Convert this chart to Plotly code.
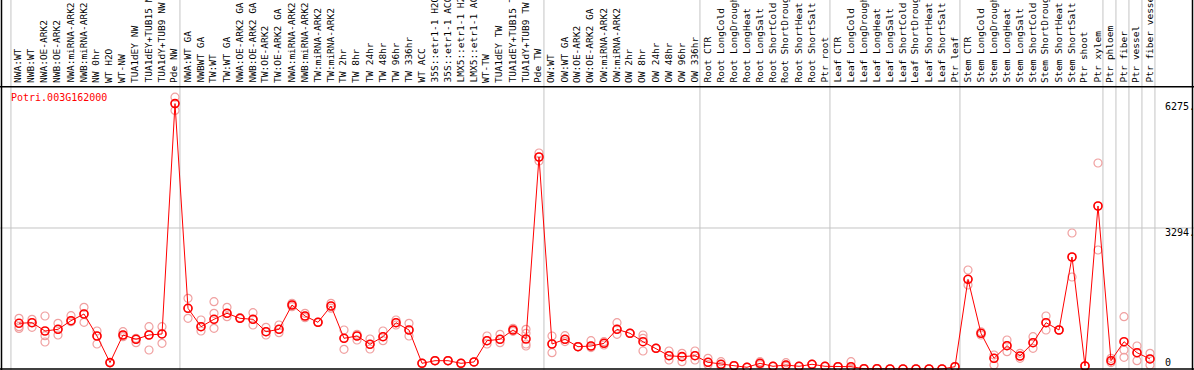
import plotly.graph_objects as go

gene = "Potri.003G162000"

labels = [
    "NWA:WT", "NWB:WT", "NWA:OE-ARK2", "NWB:OE-ARK2", "NWA:miRNA-ARK2", "NWB:miRNA-ARK2",
    "NW 0hr", "WT H2O", "WT-NW", "TUA1dEY NW", "TUA1dEY+TUB15 NW", "TUA1dY+TUB9 NW", "Pde NW",
    "NWA:WT GA", "NWBWT GA", "TW:WT", "TW:WT GA", "NWA:OE-ARK2 GA", "NWB:OE-ARK2 GA",
    "TW:OE-ARK2", "TW:OE-ARK2 GA", "NWA:miRNA-ARK2", "NWB:miRNA-ARK2", "TW:miRNA-ARK2",
    "TW:miRNA-ARK2", "TW 2hr", "TW 8hr", "TW 24hr", "TW 48hr", "TW 96hr", "TW 336hr",
    "WT ACC", "35S::etr1-1 H2O", "35S::etr1-1 ACC", "LMX5::etr1-1 H2O", "LMX5::etr1-1 ACC",
    "WT-TW", "TUA1dEY TW", "TUA1dEY+TUB15 TW", "TUA1dY+TUB9 TW", "Pde TW",
    "OW:WT", "OW:WT GA", "OW:OE-ARK2", "OW:OE-ARK2 GA", "OW:miRNA-ARK2", "OW:miRNA-ARK2",
    "OW 2hr", "OW 8hr", "OW 24hr", "OW 48hr", "OW 96hr", "OW 336hr",
    "Root CTR", "Root LongCold", "Root LongDrought", "Root LongHeat", "Root LongSalt",
    "Root ShortCold", "Root ShortDrought", "Root ShortHeat", "Root ShortSalt", "Ptr root",
    "Leaf CTR", "Leaf LongCold", "Leaf LongDrought", "Leaf LongHeat", "Leaf LongSalt",
    "Leaf ShortCold", "Leaf ShortDrought", "Leaf ShortHeat", "Leaf ShortSalt", "Ptr leaf",
    "Stem CTR", "Stem LongCold", "Stem LongDrought", "Stem LongHeat", "Stem LongSalt",
    "Stem ShortCold", "Stem ShortDrought", "Stem ShortHeat", "Stem ShortSalt", "Ptr shoot",
    "Ptr xylem", "Ptr phloem", "Ptr fiber", "Ptr vessel", "Ptr fiber vessel",
]

group_sizes = [13, 28, 12, 10, 10, 11, 1, 1, 1, 1]

means = [
    1068, 1082, 888, 927, 1128, 1285, 771, 150, 794, 694, 794, 818, 6200,
    1418, 988, 1161, 1301, 1184, 1161, 871, 927, 1495, 1238, 1091, 1472, 717, 771, 577,
    755, 1082, 911, 133, 194, 194, 133, 164, 661, 694, 911, 701, 4952,
    584, 694, 521, 537, 600, 927, 834, 638, 484, 311, 288, 311,
    157, 110, 77, 40, 133, 63, 93, 63, 110, 63,
    54, 54, 7, 7, 0, 0, 0, 0, 0, 54,
    2095, 834, 250, 544, 304, 614, 1082, 911, 2616, 70, 3808,
    194, 638, 381, 234,
]

reps = [
    [1184, 988, 947], [1161, 974, 1082], [1238, 778, 631], [1068, 794, 927],
    [1245, 1105, 1128], [1441, 1091, 1285], [888, 584, 771], [150, 150, 150],
    [871, 755, 794], [614, 717, 694], [988, 444, 794], [988, 600, 818],
    [6350, 6040, 6200],
    [1652, 1184, 1418], [1145, 888, 988], [1572, 1301, 951], [1441, 1222, 1301],
    [1198, 1184, 1184], [1315, 1028, 1161], [974, 794, 871], [1028, 848, 927],
    [1535, 1455, 1495], [1301, 1238, 1200], [1091, 1091, 1091], [1535, 1472, 1420],
    [911, 460, 717], [811, 677, 771], [701, 467, 577], [888, 661, 755],
    [1145, 1028, 1082], [1068, 771, 911], [133, 133, 133], [194, 194, 194],
    [194, 194, 194], [133, 133, 133], [164, 164, 164], [771, 584, 661],
    [811, 614, 694], [951, 911, 880], [927, 834, 584, 537], [5046, 4859, 4952],
    [771, 381, 584], [778, 694, 640], [521, 521, 521], [661, 537, 500],
    [638, 561, 600], [1082, 811, 927], [834, 834, 834], [794, 717, 420],
    [484, 484, 484], [420, 210, 311], [367, 171, 288], [420, 210, 311],
    [250, 157, 100], [171, 110, 60], [77, 77, 77], [40, 40, 40], [171, 133, 100],
    [63, 63, 63], [147, 93, 60], [63, 63, 63], [110, 110, 110], [63, 63, 63],
    [54, 54, 54], [171, 54, 20], [7, 7, 7], [7, 7, 7], [0, 0, 0], [0, 0, 0],
    [0, 0, 0], [0, 0, 0], [0, 0, 0], [54, 54, 54],
    [2313, 1962, 2095], [794, 834, 870], [327, 93, 250], [677, 404, 544],
    [367, 250, 304], [755, 484, 614], [1238, 911, 1082], [911, 911, 911],
    [3177, 2149, 2616], [70, 70, 70], [4812, 2780, 3808],
    [250, 194, 150], [1222, 444, 273], [537, 194, 381], [367, 93, 234],
]

axis_labels = ["6275.", "3294.", "0"]
grid_value = 3294

W, H = 1194, 370
X0, DX = 19.0, 13.0          # pixel of first sample, pixel step per sample
Y0PX, UNIT = 369.0, 23.36    # pixel of zero, value per pixel

xs = list(range(len(labels)))

rep_x, rep_y = [], []
for i, r in enumerate(reps):
    for v in r:
        rep_x.append(i)
        rep_y.append(v)

fig = go.Figure()
fig.add_trace(go.Scatter(
    x=rep_x, y=rep_y, mode="markers",
    marker=dict(symbol="circle-open", size=8, color="#F0A0A0", line=dict(width=1.2)),
    hoverinfo="skip", showlegend=False, cliponaxis=True,
))
fig.add_trace(go.Scatter(
    x=xs, y=means, mode="lines+markers",
    line=dict(color="#FF0000", width=1),
    marker=dict(symbol="circle-open", size=8, color="#FF0000", line=dict(width=1.6)),
    showlegend=False, cliponaxis=True,
))

shapes = []
start = 0
seps = []
for g in group_sizes:
    seps.append(start - 0.62)
    start += g
seps.append(start - 0.62)
for s in seps:
    shapes.append(dict(type="line", xref="x", yref="paper", x0=s, x1=s, y0=0, y1=1,
                       line=dict(color="#C4C4C4", width=1), layer="below"))
shapes.append(dict(type="line", xref="paper", yref="y", x0=0, x1=1, y0=grid_value, y1=grid_value,
                   line=dict(color="#C4C4C4", width=1), layer="below"))


def px_x(p):
    return p / W


def px_y(p):
    return 1 - p / H


shapes += [
    dict(type="line", xref="paper", yref="paper", x0=px_x(1.5), x1=px_x(1.5), y0=0, y1=1,
         line=dict(color="black", width=1.5)),
    dict(type="line", xref="paper", yref="paper", x0=px_x(1192.5), x1=px_x(1192.5), y0=0, y1=1,
         line=dict(color="black", width=1.5)),
    dict(type="line", xref="paper", yref="paper", x0=0, x1=1, y0=px_y(86.8), y1=px_y(86.8),
         line=dict(color="black", width=1.5)),
    dict(type="line", xref="paper", yref="paper", x0=0, x1=1, y0=px_y(369), y1=px_y(369),
         line=dict(color="black", width=1.5)),
]

annotations = []
for i, lab in enumerate(labels):
    annotations.append(dict(
        x=i, xref="x", y=px_y(84), yref="paper", text=lab, textangle=-90,
        xanchor="center", yanchor="bottom", showarrow=False, xshift=-1.5,
        font=dict(family="DejaVu Sans Mono", size=9.5, color="black"), borderpad=0,
    ))
annotations.append(dict(
    x=px_x(9), y=px_y(97), xref="paper", yref="paper", text=gene, showarrow=False,
    xanchor="left", yanchor="middle", font=dict(family="DejaVu Sans Mono", size=10, color="#FF0000"),
))
for txt, ypx in zip(axis_labels, [107, 232, 362]):
    annotations.append(dict(
        x=px_x(1163), y=px_y(ypx), xref="paper", yref="paper", text=txt, showarrow=False,
        xanchor="left", yanchor="middle", font=dict(family="DejaVu Sans Mono", size=10, color="black"),
    ))

fig.update_layout(
    width=W, height=H, margin=dict(l=0, r=0, t=0, b=0),
    paper_bgcolor="white", plot_bgcolor="white",
    xaxis=dict(range=[(0 - X0) / DX, (W - X0) / DX], visible=False, fixedrange=True),
    yaxis=dict(range=[-(H - Y0PX) * UNIT, Y0PX * UNIT], visible=False, fixedrange=True),
    shapes=shapes, annotations=annotations, showlegend=False,
)

fig.write_html(
    "out.html",
    config={"displayModeBar": False, "staticPlot": True},
    post_script="document.body.style.margin='0';document.body.style.overflow='hidden';",
)
